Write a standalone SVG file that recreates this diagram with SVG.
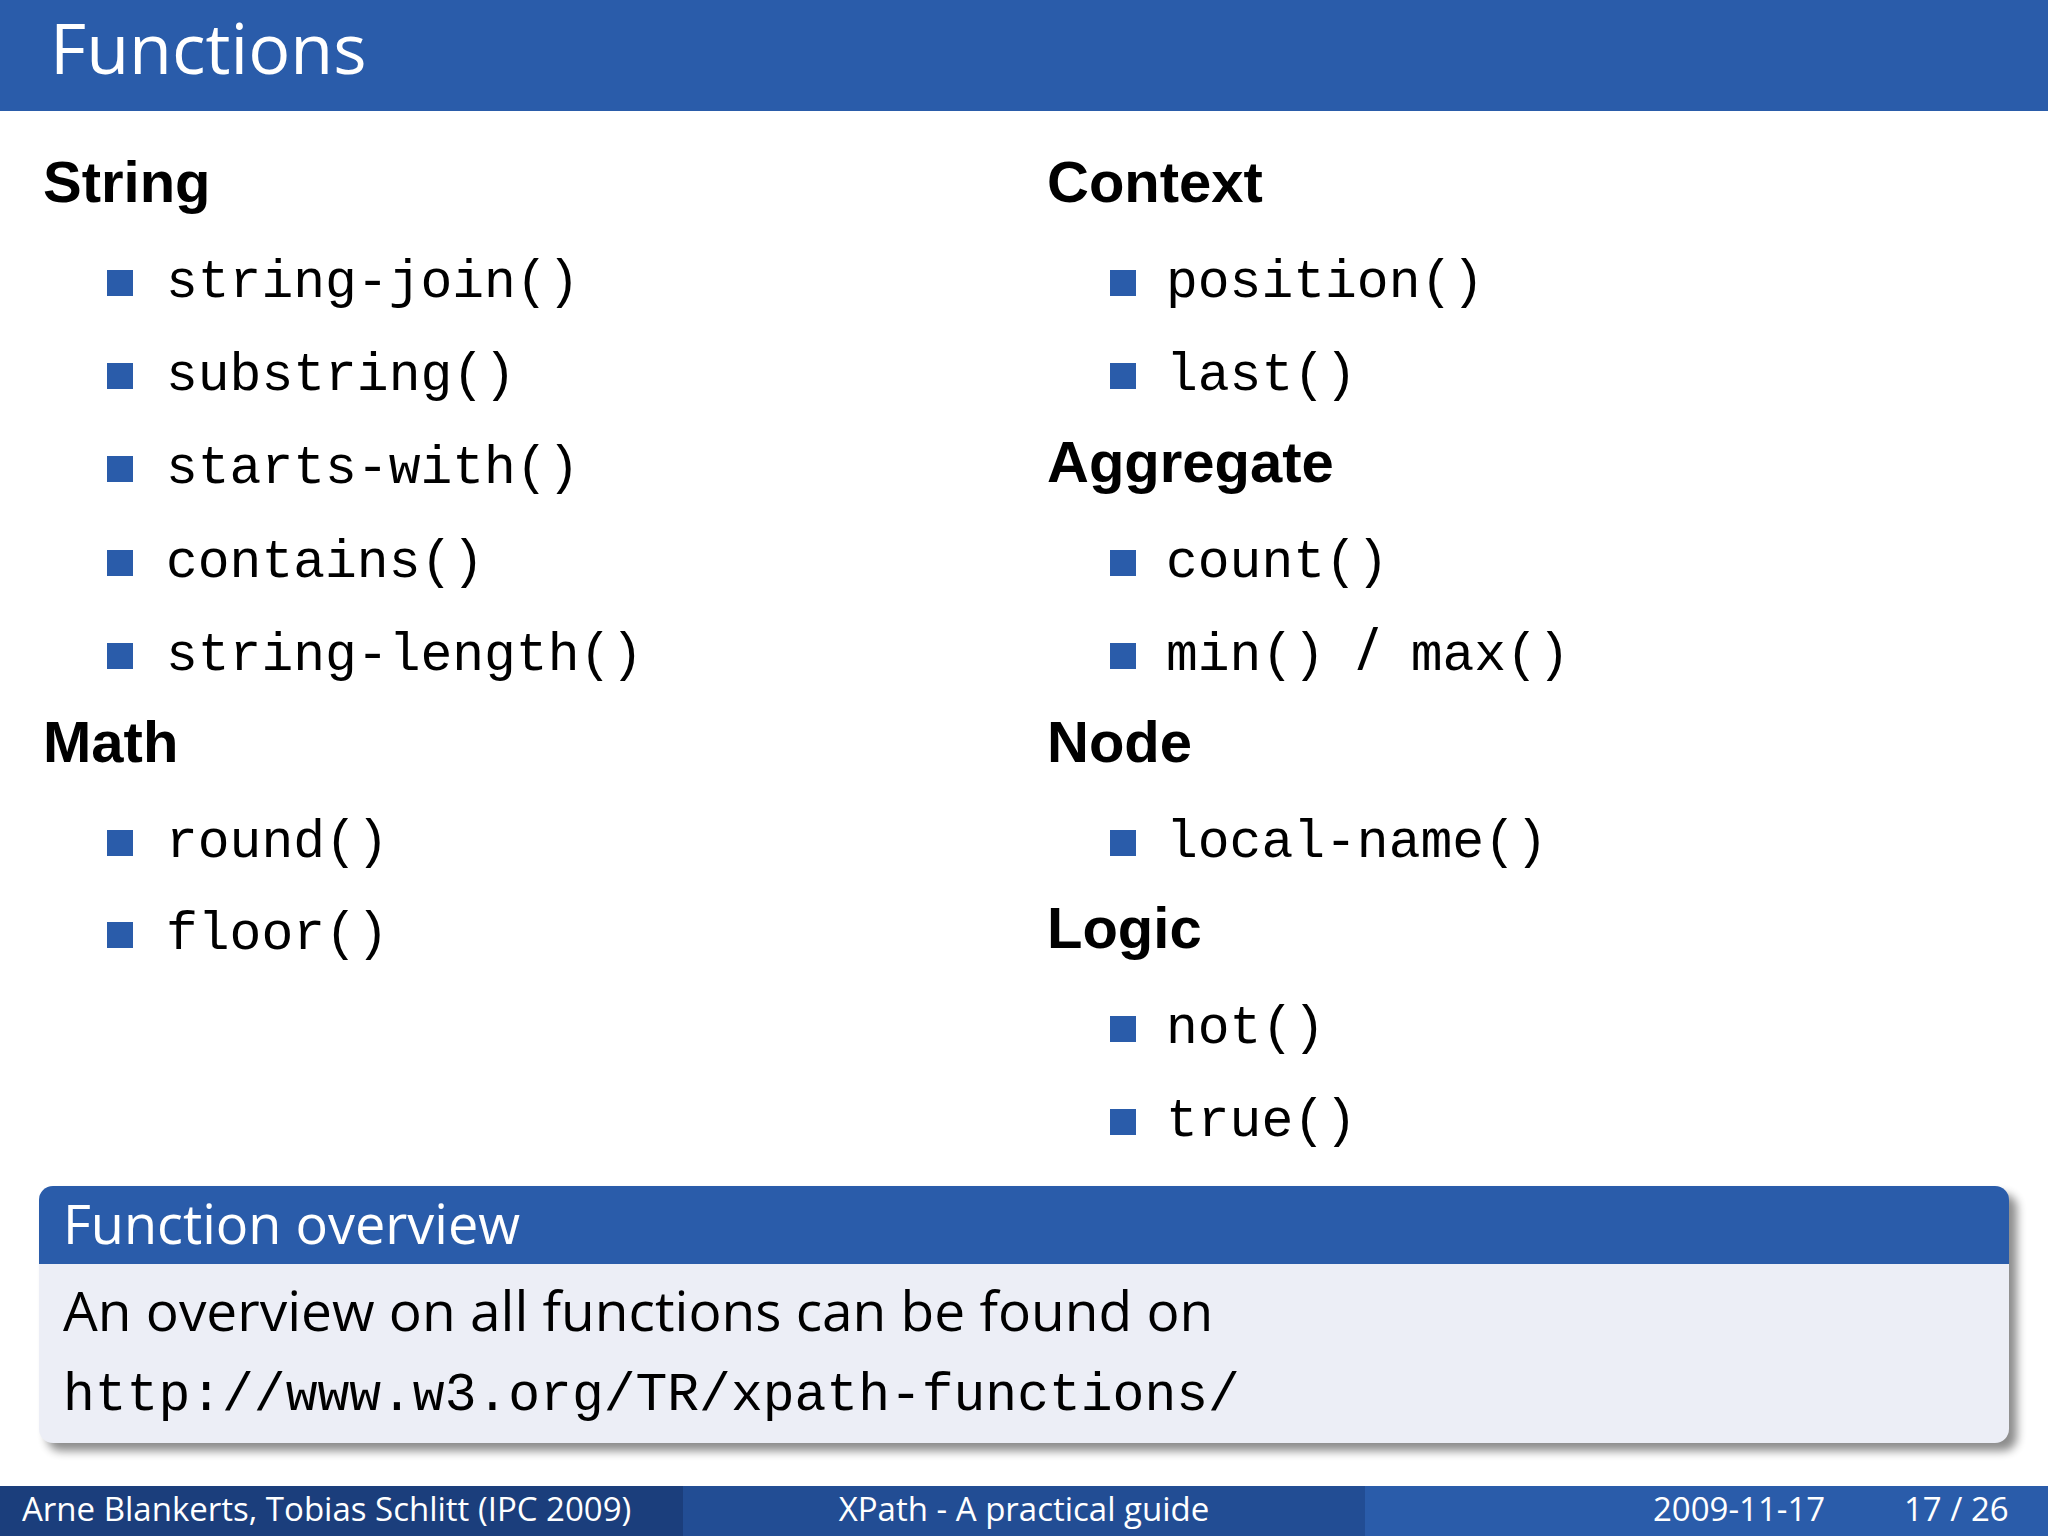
<svg xmlns="http://www.w3.org/2000/svg" width="2048" height="1536" viewBox="0 0 2048 1536">
<defs>
<style>
.h{font-family:"Liberation Sans",Arial,sans-serif;font-weight:bold;font-size:58px;fill:#000}
.m{font-family:"Liberation Mono","Courier New",monospace;font-size:53px;fill:#000}
.s{font-family:"Open Sans","Liberation Sans",sans-serif}
.b{fill:#2a5caa}
.f{font-family:"Open Sans","Liberation Sans",sans-serif;font-size:33px;fill:#fff}
</style>
<filter id="sh" x="-5%" y="-5%" width="110%" height="120%"><feGaussianBlur stdDeviation="5"/></filter>
</defs>
<rect width="2048" height="1536" fill="#fff"/>
<g id="header"><rect width="2048" height="111" fill="#2a5caa"/>
<text x="50" y="74" class="s" font-size="70" fill="#fff">Functions</text></g>
<g id="string"><text x="43" y="202" class="h">String</text>
<rect x="107" y="270" width="26" height="26" class="b"/><text x="166" y="297" class="m">string-join()</text>
<rect x="107" y="363" width="26" height="26" class="b"/><text x="166" y="390" class="m">substring()</text>
<rect x="107" y="456" width="26" height="26" class="b"/><text x="166" y="483" class="m">starts-with()</text>
<rect x="107" y="550" width="26" height="26" class="b"/><text x="166" y="577" class="m">contains()</text>
<rect x="107" y="643" width="26" height="26" class="b"/><text x="166" y="670" class="m">string-length()</text></g>
<g id="math"><text x="43" y="762" class="h">Math</text>
<rect x="107" y="830" width="26" height="26" class="b"/><text x="166" y="857" class="m">round()</text>
<rect x="107" y="922" width="26" height="26" class="b"/><text x="166" y="949" class="m">floor()</text></g>
<g id="context"><text x="1047" y="202" class="h">Context</text>
<rect x="1110" y="270" width="26" height="26" class="b"/><text x="1166" y="297" class="m">position()</text>
<rect x="1110" y="363" width="26" height="26" class="b"/><text x="1166" y="390" class="m">last()</text></g>
<g id="aggregate"><text x="1047" y="482" class="h">Aggregate</text>
<rect x="1110" y="550" width="26" height="26" class="b"/><text x="1166" y="577" class="m">count()</text>
<rect x="1110" y="643" width="26" height="26" class="b"/><text x="1166" y="670" class="m">min() <tspan class="s" font-size="60">/</tspan> max()</text></g>
<g id="node"><text x="1047" y="762" class="h">Node</text>
<rect x="1110" y="830" width="26" height="26" class="b"/><text x="1166" y="857" class="m">local-name()</text></g>
<g id="logic"><text x="1047" y="948" class="h">Logic</text>
<rect x="1110" y="1016" width="26" height="26" class="b"/><text x="1166" y="1043" class="m">not()</text>
<rect x="1110" y="1109" width="26" height="26" class="b"/><text x="1166" y="1136" class="m">true()</text></g>
<g id="overview">
<rect x="47" y="1194" width="1970" height="257" rx="14" fill="#000" opacity="0.45" filter="url(#sh)"/>
<path d="M53,1186 H1995 A14,14 0 0 1 2009,1200 V1264 H39 V1200 A14,14 0 0 1 53,1186 Z" fill="#2a5caa"/>
<path d="M39,1264 H2009 V1429 A14,14 0 0 1 1995,1443 H53 A14,14 0 0 1 39,1429 Z" fill="#eceef6"/>
<text x="63" y="1244" class="s" font-size="54" fill="#fff">Function overview</text>
<text x="63" y="1331" class="s" font-size="55" fill="#000">An overview on all functions can be found on</text>
<text x="63" y="1410" class="m" font-size="54">http://www.w3.org/TR/xpath-functions/</text></g>
<g id="footer">
<rect x="0" y="1486" width="683" height="50" fill="#1b3e7c"/>
<rect x="683" y="1486" width="682" height="50" fill="#224d94"/>
<rect x="1365" y="1486" width="683" height="50" fill="#2a5caa"/>
<text x="22" y="1521" class="f">Arne Blankerts, Tobias Schlitt  (IPC 2009)</text>
<text x="1024" y="1521" class="f" text-anchor="middle">XPath - A practical guide</text>
<text x="1653" y="1521" class="f">2009-11-17</text>
<text x="1904" y="1521" class="f">17 / 26</text></g>
</svg>
